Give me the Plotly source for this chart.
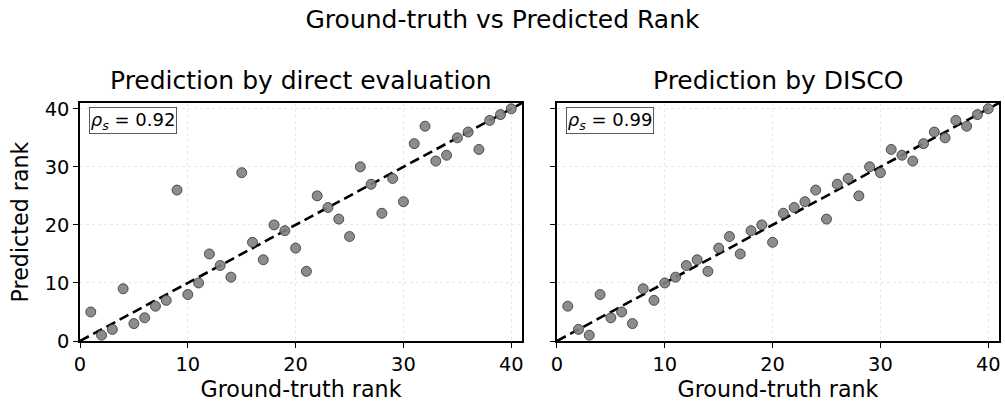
import plotly.graph_objects as go

gt_rank = list(range(1, 41))
pred_direct = [5, 1, 2, 9, 3, 4, 6, 7, 26, 8, 10, 15, 13, 11, 29, 17, 14, 20, 19, 16,
               12, 25, 23, 21, 18, 30, 27, 22, 28, 24, 34, 37, 31, 32, 35, 36, 33, 38, 39, 40]
pred_disco = [6, 2, 1, 8, 4, 5, 3, 9, 7, 10, 11, 13, 14, 12, 16, 18, 15, 19, 20, 17,
              22, 23, 24, 26, 21, 27, 28, 25, 30, 29, 33, 32, 31, 34, 36, 35, 38, 37, 39, 40]
rho_labels = ["0.92", "0.99"]
panel_titles = ["Prediction by direct evaluation", "Prediction by DISCO"]
ticks = [0, 10, 20, 30, 40]
diag = [0, 41]

FONT = "DejaVu Sans"
fig = go.Figure()

for i, pred in enumerate([pred_direct, pred_disco]):
    xa = "x" if i == 0 else "x2"
    ya = "y" if i == 0 else "y2"
    fig.add_trace(go.Scatter(
        x=diag, y=diag, mode="lines", xaxis=xa, yaxis=ya,
        line=dict(color="black", width=2.6, dash="10px,5px"), showlegend=False,
        hoverinfo="skip"))
    fig.add_trace(go.Scatter(
        x=gt_rank, y=pred, mode="markers", xaxis=xa, yaxis=ya,
        marker=dict(size=10, color="rgba(128,128,128,0.9)",
                    line=dict(color="#333333", width=0.8)),
        showlegend=False))

axis_common = dict(
    range=[0, 41], tickvals=ticks, ticks="outside", ticklen=5, tickwidth=1.2,
    tickcolor="black", showline=True, linecolor="black", linewidth=1.5, mirror=True,
    showgrid=True, gridcolor="rgba(0,0,0,0.09)", gridwidth=0.8, griddash="3px,3px",
    zeroline=False, tickfont=dict(size=19.4, color="black", family=FONT))

fig.update_layout(
    width=1005, height=403,
    margin=dict(l=80, r=4, t=103, b=62),
    plot_bgcolor="white", paper_bgcolor="white",
    font=dict(family=FONT, color="black"),
    xaxis=dict(domain=[0, 0.481], anchor="y",
               title=dict(text="Ground-truth rank", font=dict(size=22.2), standoff=6),
               **axis_common),
    yaxis=dict(domain=[0, 1], anchor="x",
               title=dict(text="Predicted rank", font=dict(size=22.2), standoff=10),
               **axis_common),
    xaxis2=dict(domain=[0.519, 1], anchor="y2",
                title=dict(text="Ground-truth rank", font=dict(size=22.2), standoff=6),
                **axis_common),
    yaxis2=dict(domain=[0, 1], anchor="x2", showticklabels=False, **axis_common),
    title=dict(text="Ground-truth vs Predicted Rank", x=0.5, xanchor="center",
               y=1 - 19 / 403, yanchor="middle", font=dict(size=25, family=FONT)),
)

for i in range(2):
    xd = "x domain" if i == 0 else "x2 domain"
    yd = "y domain" if i == 0 else "y2 domain"
    fig.add_annotation(
        text="<i>ρ<sub>s</sub></i> = " + rho_labels[i], xref=xd, yref=yd,
        x=0.02, y=0.985, xanchor="left", yanchor="top", showarrow=False,
        font=dict(size=18, family=FONT), bgcolor="white",
        bordercolor="#333333", borderwidth=0.8, borderpad=1)
    fig.add_annotation(
        text=panel_titles[i], xref=xd, yref="paper", x=0.5, y=1,
        yshift=23, xanchor="center", yanchor="middle", showarrow=False,
        font=dict(size=25, family=FONT))

fig.write_html("out.html", config={"displayModeBar": False},
               post_script="document.body.style.margin='0';")
